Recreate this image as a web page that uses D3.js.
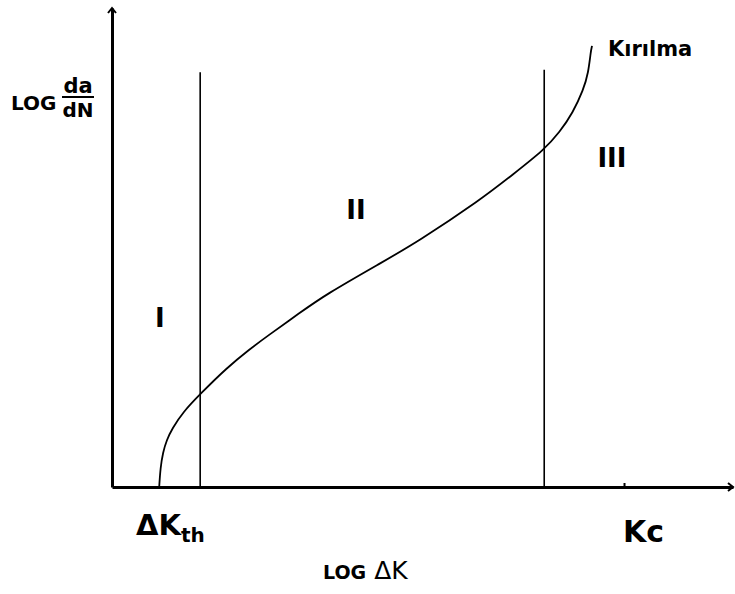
<!DOCTYPE html>
<html>
<head>
<meta charset="utf-8">
<script src="https://cdn.jsdelivr.net/npm/d3@7"></script>
<style>
  body { margin: 0; background: #fff; }
  text { font-family: "DejaVu Sans", "Liberation Sans", Arial, sans-serif; fill: #000; }
</style>
</head>
<body>
<div id="chart"></div>
<script>
// crack growth curve, in arbitrary log units (0..10 on both axes)
const crackX = [0.76, 0.78, 0.82, 0.88, 0.97, 1.14, 1.42, 1.85, 2.22, 2.50, 3.03, 3.43, 4.36, 4.91, 5.93, 6.46, 6.96, 7.21, 7.42, 7.59, 7.67, 7.71, 7.73];
const crackY = [0, 0.40, 0.72, 0.98, 1.22, 1.56, 1.94, 2.49, 2.88, 3.15, 3.64, 4.01, 4.70, 5.11, 5.99, 6.53, 7.04, 7.41, 7.81, 8.29, 8.64, 9.10, 9.21];

// region boundaries (vertical lines) and their top ends
const boundaryX = [1.42, 6.96];
const boundaryTop = [8.66, 8.71];

// region names and where they sit
const regionNames = ["I", "II", "III"];
const regionX = [0.77, 3.93, 8.05];
const regionY = [3.34, 5.59, 6.68];

const kcValue = 8.245;

const width = 735;
const height = 594;

const svg = d3.select("#chart")
    .append("svg")
    .attr("width", width)
    .attr("height", height);

const x = d3.scaleLinear().domain([0, 10]).range([112, 733]);
const y = d3.scaleLinear().domain([0, 10]).range([487, 8]);

// axes
const xAxis = svg.append("g")
    .attr("transform", `translate(0,${y(0)})`)
    .call(d3.axisBottom(x).tickValues([kcValue]).tickSize(-4).tickSizeOuter(0).tickFormat(""));
xAxis.select(".domain").attr("stroke-width", 3);
xAxis.selectAll(".tick line").attr("stroke-width", 2);

const yAxis = svg.append("g")
    .attr("transform", `translate(${x(0)},0)`)
    .call(d3.axisLeft(y).tickValues([]).tickSizeOuter(0));
yAxis.select(".domain").attr("stroke-width", 3);

// arrow heads
svg.append("path")
    .attr("d", `M${x(0) - 4},${y(10) + 5} L${x(0)},${y(10)} L${x(0) + 4},${y(10) + 5}`)
    .attr("fill", "none").attr("stroke", "#000").attr("stroke-width", 2);
svg.append("path")
    .attr("d", `M${x(10) - 5},${y(0) - 4} L${x(10)},${y(0)} L${x(10) - 5},${y(0) + 4}`)
    .attr("fill", "none").attr("stroke", "#000").attr("stroke-width", 2);

// boundaries
svg.selectAll(".boundary")
    .data(boundaryX)
    .join("line")
    .attr("class", "boundary")
    .attr("x1", d => x(d)).attr("x2", d => x(d))
    .attr("y1", y(0))
    .attr("y2", (d, i) => y(boundaryTop[i]))
    .attr("stroke", "#000")
    .attr("stroke-width", 1.6);

// curve
const line = d3.line()
    .x(d => x(d[0]))
    .y(d => y(d[1]))
    .curve(d3.curveBasis);

svg.append("path")
    .datum(d3.zip(crackX, crackY))
    .attr("d", line)
    .attr("fill", "none")
    .attr("stroke", "#000")
    .attr("stroke-width", 1.8);

// region labels
svg.selectAll(".region")
    .data(regionNames)
    .join("text")
    .attr("class", "region")
    .attr("x", (d, i) => x(regionX[i]))
    .attr("y", (d, i) => y(regionY[i]))
    .attr("text-anchor", "middle")
    .style("font-size", "26px")
    .style("font-weight", 700)
    .text(d => d);

// Kırılma
svg.append("text")
    .attr("x", 608)
    .attr("y", 56)
    .style("font-size", "21px")
    .style("font-weight", 700)
    .text("Kırılma");

// x labels
const dkth = svg.append("text")
    .attr("x", 136)
    .attr("y", 535)
    .style("font-size", "29px")
    .style("font-weight", 700);
dkth.append("tspan").text("ΔK");
dkth.append("tspan").attr("dy", 7).style("font-size", "20px").text("th");

svg.append("text")
    .attr("x", 623)
    .attr("y", 542)
    .style("font-size", "30px")
    .style("font-weight", 700)
    .text("Kc");

const xTitle = svg.append("text")
    .attr("x", 323)
    .attr("y", 579);
xTitle.append("tspan").style("font-size", "19px").style("font-weight", 700).text("LOG");
xTitle.append("tspan").attr("dx", 8).style("font-size", "25px").text("ΔK");

// y label
svg.append("text")
    .attr("x", 11)
    .attr("y", 110)
    .style("font-size", "20px")
    .style("font-weight", 700)
    .text("LOG");
svg.append("text")
    .attr("x", 78)
    .attr("y", 93)
    .attr("text-anchor", "middle")
    .style("font-size", "21px")
    .style("font-weight", 700)
    .text("da");
svg.append("line")
    .attr("x1", 62).attr("x2", 94)
    .attr("y1", 97).attr("y2", 97)
    .attr("stroke", "#000")
    .attr("stroke-width", 2);
svg.append("text")
    .attr("x", 78)
    .attr("y", 117)
    .attr("text-anchor", "middle")
    .style("font-size", "20px")
    .style("font-weight", 700)
    .text("dN");
</script>
</body>
</html>
